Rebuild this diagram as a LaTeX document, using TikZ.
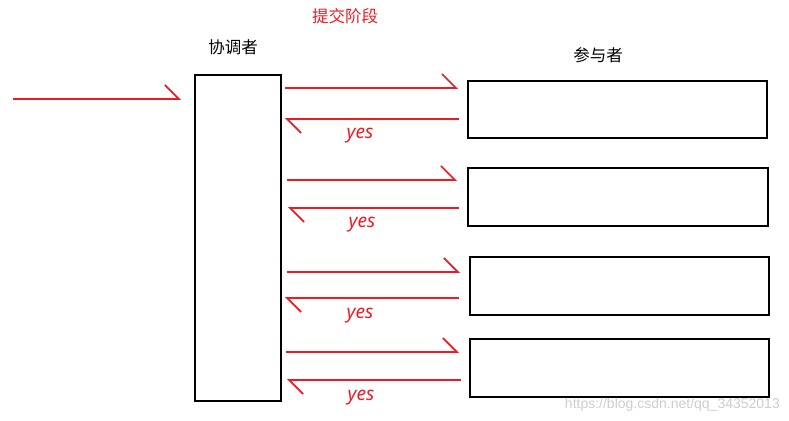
\documentclass[tikz,border=0pt]{standalone}
\usepackage{fontspec}
\setmainfont{Noto Sans}
\newfontfamily\cjk{Noto Sans CJK SC}
\newfontfamily\wmfont{Liberation Sans}
\usetikzlibrary{arrows.meta}
\definecolor{pred}{RGB}{237,28,36}
\definecolor{wmgray}{RGB}{205,205,205}
\tikzset{
  box/.style={draw=black, line width=1.6pt, minimum width=#1, inner sep=0pt, anchor=north west},
  harrow/.style={draw=pred, line width=1.7pt, -{Straight Barb[harpoon, length=14pt, width=28pt, line width=1.7pt]}},
  yeslabel/.style={text=pred, font=\itshape\fontsize{19}{19}\selectfont, inner sep=0pt},
  cjklabel/.style={font=\cjk\fontsize{16.5}{16.5}\selectfont, inner sep=0pt},
}
\begin{document}
\begin{tikzpicture}[x=1pt, y=-1pt]
\useasboundingbox (0,0) rectangle (789,420);
% titles
\node[cjklabel, text=pred] (title) at (345,16) {提交阶段};
\node[cjklabel] (coordlabel) at (233,47) {协调者};
\node[cjklabel] (partlabel) at (598,55) {参与者};
% coordinator
\node[box=86pt, minimum height=326pt] (coord) at (194,74) {};
% participants
\node[box=299pt, minimum height=57pt] (p1) at (467,80) {};
\node[box=300pt, minimum height=58pt] (p2) at (467,167) {};
\node[box=299pt, minimum height=58pt] (p3) at (469,256) {};
\node[box=299pt, minimum height=58pt] (p4) at (469,338) {};
% incoming request
\coordinate (in0) at (13,99);
\coordinate (in1) at (181,99);
\draw[harrow] (in0) -- (in1);
% message pairs
\foreach \i/\fy/\fa/\fb/\ry/\ra/\rb/\yx/\yy in {
  1/88/285/458/119/459/285/360/136,
  2/180/287/457/208/459/288/362/225,
  3/272/287/460/298/459/285/360/316,
  4/352/286/459/380/461/287/361/398}{
  \coordinate (fs\i) at (\fa,\fy);
  \coordinate (fe\i) at (\fb,\fy);
  \coordinate (rs\i) at (\ra,\ry);
  \coordinate (re\i) at (\rb,\ry);
  \draw[harrow] (fs\i) -- (fe\i);
  \draw[harrow] (rs\i) -- (re\i);
  \node[yeslabel] (yes\i) at (\yx,\yy) {yes};
}
% watermark
\node[text=wmgray, font=\wmfont\fontsize{14}{14}\selectfont, anchor=base east, inner sep=0pt] (wm) at (780,408) {https://blog.csdn.net/qq\_34352013};
\end{tikzpicture}
\end{document}
